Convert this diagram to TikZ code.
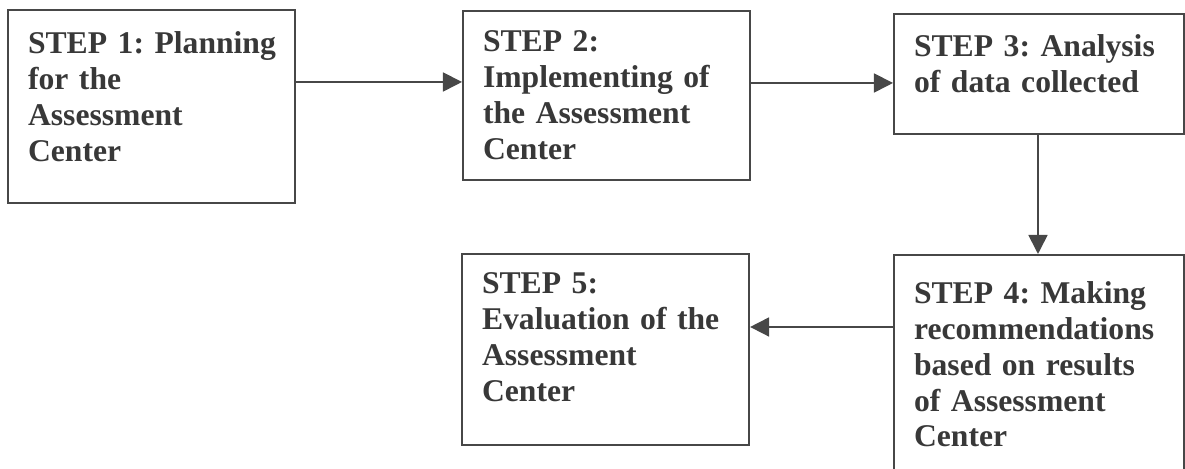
\documentclass[tikz,border=0pt]{standalone}
\usepackage{fontspec}
\setmainfont{Liberation Serif}
\usepackage{tikz}
\usetikzlibrary{arrows.meta}
\frenchspacing
\hyphenpenalty=10000

\begin{document}
\begin{tikzpicture}[
  stepbox/.style={draw=black!72, line width=0.6pt, anchor=north west, align=left, inner xsep=0.2cm, inner ysep=0.2cm, text width=2.47cm, font=\fontsize{9.0}{10.24}\selectfont\bfseries, text=black!78},
  flow/.style={-{Triangle[length=0.19cm, width=0.19cm]}, draw=black!72, line width=0.5pt},
]
\useasboundingbox (0,0) rectangle (11.85,-4.69);

% ===================== Top row =====================
\node[stepbox, text height=0.23cm, text depth=1.30cm] (s1) at (0.07,-0.09) {\mbox{STEP 1: Planning}\\for the\\Assessment\\Center};

\node[stepbox, text height=0.20cm, text depth=1.09cm] (s2) at (4.62,-0.10) {STEP 2:\\Implementing of\\the Assessment\\Center};

\node[stepbox, text width=2.50cm, text height=0.22cm, text depth=0.58cm] (s3) at (8.93,-0.13) {STEP 3: Analysis\\of data collected};

% ===================== Bottom row =====================
\node[stepbox, text width=2.50cm, text height=0.28cm, text depth=1.50cm] (s4) at (8.93,-2.54) {STEP 4: Making\\recommendations\\based on results\\of Assessment\\Center};

\node[stepbox, text height=0.19cm, text depth=1.32cm] (s5) at (4.61,-2.53) {STEP 5:\\Evaluation of the\\Assessment\\Center};

% Arrows between the steps
\draw[flow] ([yshift=-0.73cm]s1.north east) -- ([yshift=-0.72cm]s2.north west);
\draw[flow] ([yshift=-0.73cm]s2.north east) -- ([yshift=-0.70cm]s3.north west);
\draw[flow] ([xshift=1.45cm]s3.south west) -- ([xshift=1.45cm]s4.north west);
\draw[flow] ([yshift=-0.73cm]s4.north west) -- ([yshift=-0.74cm]s5.north east);

\end{tikzpicture}
\end{document}
